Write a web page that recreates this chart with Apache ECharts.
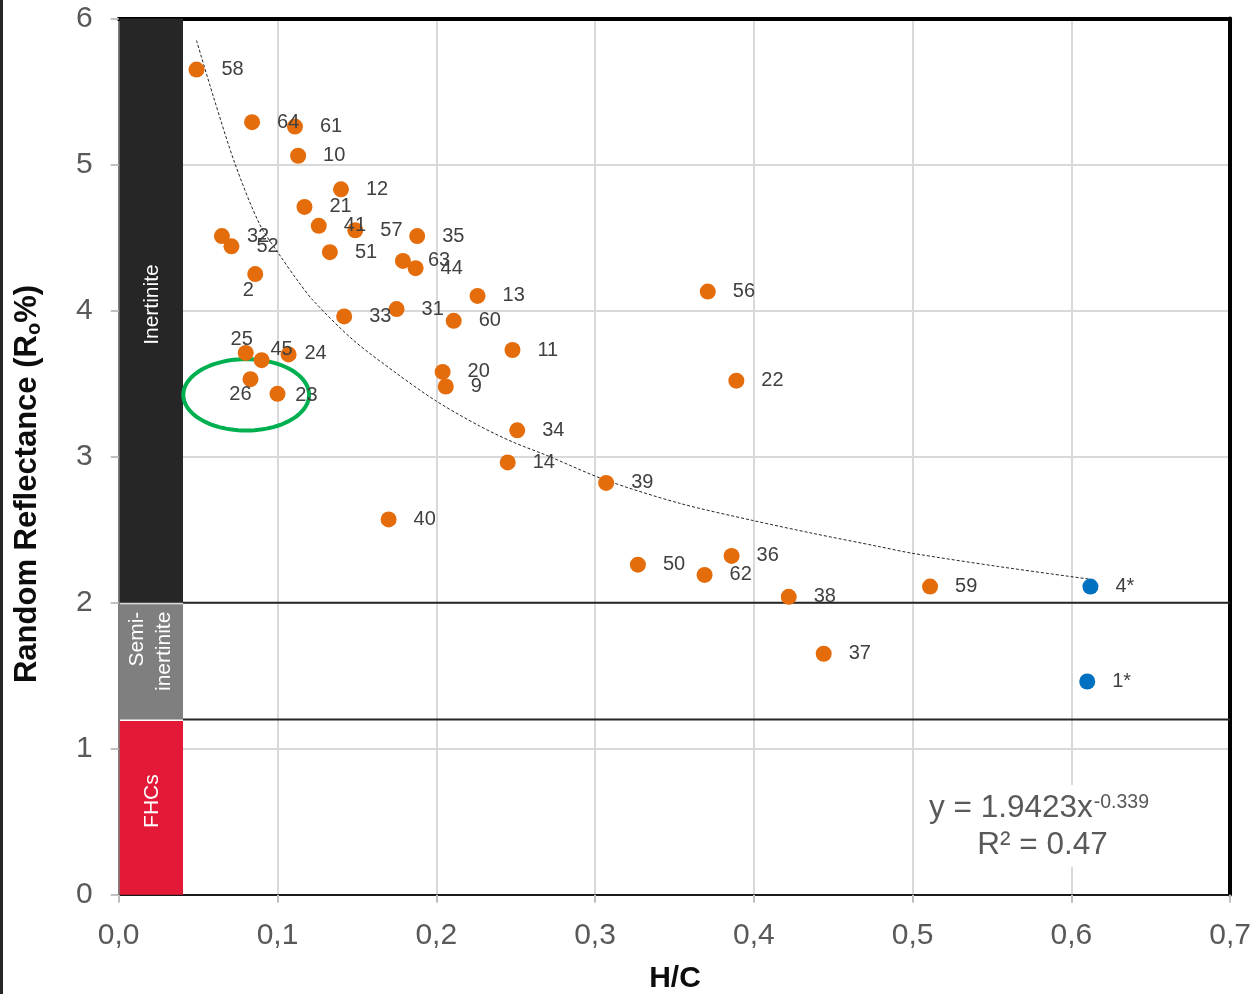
<!DOCTYPE html>
<html>
<head>
<meta charset="utf-8">
<title>Random Reflectance vs H/C</title>
<script src="https://cdn.jsdelivr.net/npm/echarts@6/dist/echarts.min.js"></script>
<style>
  html, body { margin: 0; padding: 0; background: #ffffff; }
  #chart { width: 1254px; height: 994px; }
</style>
</head>
<body>
<div id="chart"></div>
<script>
// Samples: atomic H/C ratio and random reflectance (Ro %)
const sampleIds = ['58','64','61','10','12','21','41','57','35','32','52','51','63','44','2','13','33','31','60',
                   '25','45','24','26','23','20','9','11','34','14','40','56','22','39','50','36','62','38','59','37'];
const sampleHC  = [0.049,0.084,0.111,0.113,0.140,0.117,0.126,0.149,0.188,0.065,0.071,0.133,0.179,0.187,0.086,0.226,0.142,0.175,0.211,
                   0.080,0.090,0.107,0.083,0.100,0.204,0.206,0.248,0.251,0.245,0.170,0.371,0.389,0.307,0.327,0.386,0.369,0.422,0.511,0.444];
const sampleRo  = [5.65,5.29,5.26,5.06,4.83,4.71,4.58,4.55,4.51,4.51,4.44,4.40,4.34,4.29,4.25,4.10,3.96,4.01,3.93,
                   3.71,3.66,3.70,3.53,3.43,3.58,3.48,3.73,3.18,2.96,2.57,4.13,3.52,2.82,2.26,2.32,2.19,2.04,2.11,1.65];

// Reference samples marked with an asterisk
const starredIds = ['4*','1*'];
const starredHC  = [0.612,0.610];
const starredRo  = [2.11,1.46];

// Power-law trend curve, sampled along its drawn path
const trendHC = [0.049,0.0595,0.0731,0.0888,0.1014,0.113,0.1224,0.1475,0.175,0.200,0.2272,0.2482,0.2692,0.3065,0.353,0.3996,0.4369,0.4788,0.4998,0.5543,0.612];
const trendRo = [5.85,5.47,5.01,4.59,4.38,4.20,4.07,3.80,3.57,3.38,3.21,3.10,3.01,2.84,2.681,2.562,2.475,2.384,2.338,2.247,2.16];

// Maceral zones along the reflectance axis
const zoneNames = ['Inertinite','Semi-\ninertinite','FHCs'];
const zoneLowRo  = [2, 1.2, 0];
const zoneHighRo = [6, 2, 1.2];
const zoneEdgeHC = [0.0405];
const zoneBoundaryRo = [2, 1.2];

// Highlighted group (samples 26 and 23): centre and half-extents in axis units
const ringHC = [0.0803];
const ringRo = [3.423];
const ringHalfHC = [0.0396];
const ringHalfRo = [0.2445];

// Axis ticks
const xTicks = [0, 0.1, 0.2, 0.3, 0.4, 0.5, 0.6, 0.7];
const yTicks = [0, 1, 2, 3, 4, 5, 6];

const FONT = '"Liberation Sans", Arial, sans-serif';
const zoneColors = ['#262626', '#7f7f7f', '#e31937'];
// label placement tweaks (pixel offset of label centre from the dot centre)
const labelNudge = { '2': [-7, 16], '25': [-4, -13], '45': [20, -11], '26': [-10, 15], '23': [29, 2], '24': [27, -1] };

function pointItems(ids, xs, ys) {
  return ids.map((id, i) => {
    const item = { name: id, value: [xs[i], ys[i]] };
    const n = labelNudge[id];
    if (n) item.label = { position: 'inside', offset: n, align: 'center', verticalAlign: 'middle' };
    return item;
  });
}

const chart = echarts.init(document.getElementById('chart'), null, { renderer: 'canvas' });

const fmtHC = v => v.toFixed(1).replace('.', ',');

const baseAxisLabel = { fontSize: 30, color: '#595959', fontFamily: FONT };
const pointLabel = { show: true, position: 'right', distance: 17, formatter: '{b}',
                     fontSize: 20, color: '#404040', fontFamily: FONT };

const option = {
  animation: false,
  backgroundColor: '#ffffff',
  grid: { left: 118.7, right: 23.5, top: 18.5, bottom: 99.3, containLabel: false },
  xAxis: [
    {
      type: 'value', min: xTicks[0], max: xTicks[xTicks.length - 1], interval: 0.1,
      axisLine: { show: true, onZero: false, lineStyle: { color: '#1a1a1a', width: 2 } },
      axisTick: { show: true, length: 8, lineStyle: { color: '#bfbfbf', width: 2 } },
      axisLabel: Object.assign({}, baseAxisLabel, { margin: 26, formatter: fmtHC }),
      splitLine: { show: true, lineStyle: { color: '#d9d9d9', width: 2 } }
    },
    {
      type: 'value', position: 'top', min: xTicks[0], max: xTicks[xTicks.length - 1],
      axisLine: { show: true, onZero: false, lineStyle: { color: '#000000', width: 4 } },
      axisTick: { show: false }, axisLabel: { show: false }, splitLine: { show: false }
    }
  ],
  yAxis: [
    {
      type: 'value', min: yTicks[0], max: yTicks[yTicks.length - 1], interval: 1,
      axisLine: { show: true, onZero: false, lineStyle: { color: '#7f7f7f', width: 2 } },
      axisTick: { show: true, length: 8, lineStyle: { color: '#bfbfbf', width: 2 } },
      axisLabel: Object.assign({}, baseAxisLabel, { margin: 26 }),
      splitLine: { show: true, lineStyle: { color: '#d9d9d9', width: 2 } }
    },
    {
      type: 'value', position: 'right', min: yTicks[0], max: yTicks[yTicks.length - 1],
      axisLine: { show: true, onZero: false, lineStyle: { color: '#000000', width: 4 } },
      axisTick: { show: false }, axisLabel: { show: false }, splitLine: { show: false }
    }
  ],
  series: [
    // coloured maceral zone strip with rotated captions
    {
      type: 'custom', coordinateSystem: 'cartesian2d', silent: true, z: 1,
      data: zoneNames.map((n, i) => [0, zoneEdgeHC[0], zoneLowRo[i], zoneHighRo[i], i]),
      renderItem: function (params, api) {
        const i = api.value(4);
        const tl = api.coord([api.value(0), api.value(3)]);
        const br = api.coord([api.value(1), api.value(2)]);
        const inset = i === 0 ? 0 : 1.5;
        const cx = (tl[0] + br[0]) / 2 + 1;
        const children = [{
          type: 'rect',
          shape: { x: tl[0] + 1, y: tl[1] + inset, width: br[0] - tl[0] - 1, height: br[1] - tl[1] - inset },
          style: { fill: zoneColors[i] }
        }];
        if (i === 1) {
          children.push({
            type: 'text', x: cx - 1, y: tl[1] + 9, rotation: Math.PI / 2,
            style: { text: zoneNames[i], fill: '#ffffff', fontSize: 21, fontFamily: FONT, lineHeight: 27,
                     align: 'right', verticalAlign: 'middle', textAlign: 'right', textVerticalAlign: 'middle' }
          });
        } else {
          children.push({
            type: 'text', x: cx, y: (tl[1] + br[1]) / 2 - 6, rotation: Math.PI / 2,
            style: { text: zoneNames[i], fill: '#ffffff', fontSize: 21, fontFamily: FONT,
                     align: 'center', verticalAlign: 'middle', textAlign: 'center', textVerticalAlign: 'middle' }
          });
        }
        return { type: 'group', children: children };
      }
    },
    // zone boundary lines across the plot
    {
      type: 'custom', coordinateSystem: 'cartesian2d', silent: true, z: 2,
      data: zoneBoundaryRo.map(r => [zoneEdgeHC[0], xTicks[xTicks.length - 1], r]),
      renderItem: function (params, api) {
        const a = api.coord([api.value(0), api.value(2)]);
        const b = api.coord([api.value(1), api.value(2)]);
        return { type: 'line', shape: { x1: a[0], y1: a[1], x2: b[0], y2: b[1] },
                 style: { stroke: '#262626', lineWidth: 2 } };
      }
    },
    // highlighted group outline
    {
      type: 'custom', coordinateSystem: 'cartesian2d', silent: true, z: 3,
      data: ringHC.map((x, i) => [x, ringRo[i], ringHalfHC[i], ringHalfRo[i]]),
      renderItem: function (params, api) {
        const c = api.coord([api.value(0), api.value(1)]);
        const s = api.size([api.value(2), api.value(3)]);
        const pts = [];
        for (let k = 0; k < 96; k++) {
          const t = (k / 96) * Math.PI * 2;
          pts.push([c[0] + s[0] * Math.cos(t), c[1] + s[1] * Math.sin(t)]);
        }
        return { type: 'polygon', shape: { points: pts },
                 style: { fill: 'none', stroke: '#00b050', lineWidth: 4 } };
      }
    },
    // trend curve
    {
      type: 'line', z: 4, silent: true, showSymbol: false, smooth: 0.3,
      data: trendHC.map((x, i) => [x, trendRo[i]]),
      lineStyle: { color: '#262626', width: 1, type: [3, 2] }
    },
    // samples
    {
      type: 'scatter', z: 5, symbol: 'circle', symbolSize: 16,
      itemStyle: { color: '#e46c0a', opacity: 1 },
      label: pointLabel,
      data: pointItems(sampleIds, sampleHC, sampleRo)
    },
    {
      type: 'scatter', z: 5, symbol: 'circle', symbolSize: 16,
      itemStyle: { color: '#0070c0', opacity: 1 },
      label: pointLabel,
      data: pointItems(starredIds, starredHC, starredRo)
    }
  ],
  graphic: [
    { type: 'rect', left: 0, top: 0, shape: { width: 3, height: 994 }, style: { fill: '#262626' }, silent: true },
    {
      type: 'text', x: 27, y: 484, rotation: Math.PI / 2, silent: true,
      style: {
        text: '{b|Random Reflectance (R}{s|o}{b|%)}',
        rich: {
          b: { fontSize: 31, fontWeight: 'bold', fontFamily: FONT, fill: '#0d0d0d', color: '#0d0d0d' },
          s: { fontSize: 20, fontWeight: 'bold', fontFamily: FONT, fill: '#0d0d0d', color: '#0d0d0d', padding: [14, 0, 0, 0] }
        },
        align: 'center', verticalAlign: 'middle', textAlign: 'center', textVerticalAlign: 'middle'
      }
    },
    {
      type: 'text', x: 675, y: 979, silent: true,
      style: { text: 'H/C', fontSize: 30, fontWeight: 'bold', fontFamily: FONT, fill: '#0d0d0d',
               align: 'center', verticalAlign: 'middle', textAlign: 'center', textVerticalAlign: 'middle' }
    },
    // trend equation box (white background hides the grid behind it)
    { type: 'rect', x: 920, y: 785, shape: { width: 245, height: 82 }, style: { fill: '#ffffff' }, silent: true, z: 90 },
    {
      type: 'text', x: 929, y: 808, silent: true, z: 100,
      style: {
        text: '{m|y = 1.9423x}{p|-0.339}',
        rich: {
          m: { fontSize: 31.5, fontFamily: FONT, fill: '#595959', color: '#595959' },
          p: { fontSize: 19.5, fontFamily: FONT, fill: '#595959', color: '#595959', padding: [0, 0, 10, 1] }
        },
        align: 'left', verticalAlign: 'middle', textAlign: 'left', textVerticalAlign: 'middle'
      }
    },
    {
      type: 'text', x: 1042.5, y: 845, silent: true, z: 100,
      style: { text: 'R² = 0.47', fontSize: 31.5, fontFamily: FONT, fill: '#595959',
               align: 'center', verticalAlign: 'middle', textAlign: 'center', textVerticalAlign: 'middle' }
    }
  ]
};

chart.setOption(option);
</script>
</body>
</html>
